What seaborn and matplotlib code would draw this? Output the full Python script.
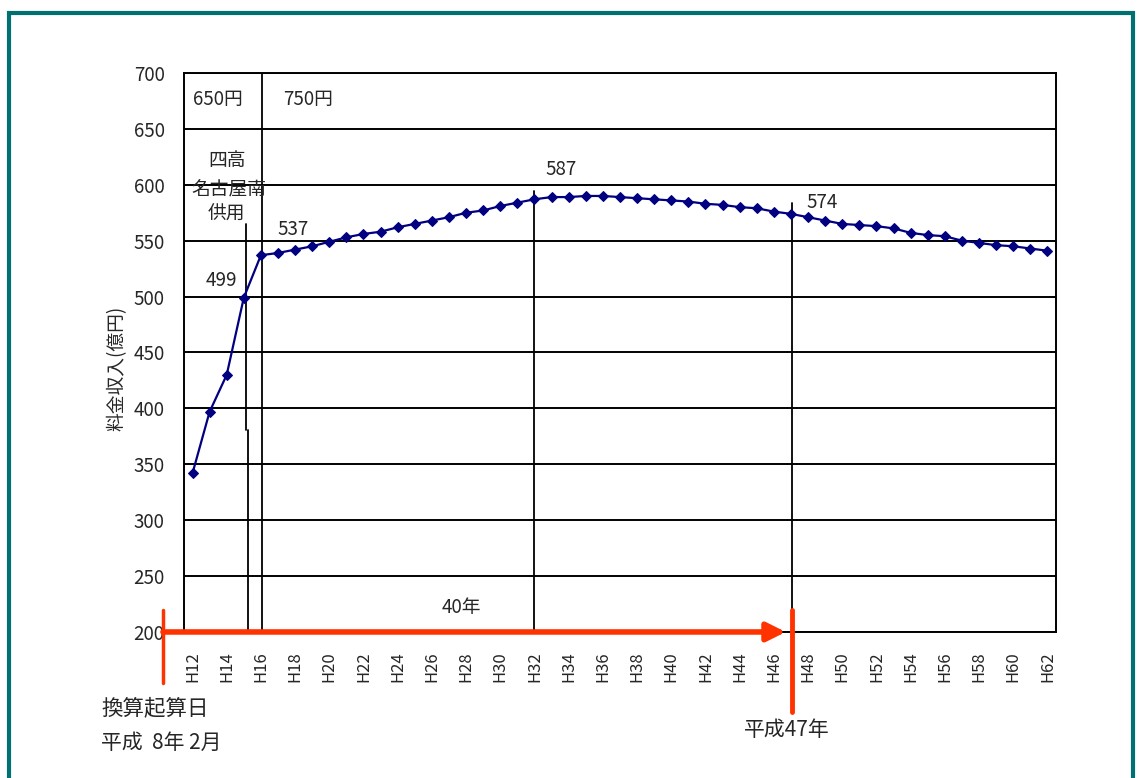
import matplotlib
matplotlib.use("Agg")
import matplotlib.pyplot as plt
import matplotlib.patches as mpatches
import pandas as pd
import seaborn as sns

# 料金収入 (億円), H12 .. H62
years = list(range(12, 63))
revenue = [342, 397, 430, 499, 537, 539, 542, 545, 549, 553,
           556, 558, 562, 565, 568, 571, 575, 577, 581, 584,
           587, 589, 589, 590, 590, 589, 588, 587, 586, 585,
           583, 582, 580, 579, 576, 574, 571, 568, 565, 564,
           563, 561, 557, 555, 554, 550, 548, 546, 545, 543, 541]
year_labels = [f"H{y}" for y in years]
y_ticks = [200, 250, 300, 350, 400, 450, 500, 550, 600, 650, 700]

# labelled points (category index, value)
callouts = [(3, 499), (4, 537), (20, 587), (35, 574)]

sns.set_theme(style="white")
plt.rcParams["font.family"] = ["Noto Sans CJK JP", "DejaVu Sans"]

df = pd.DataFrame({"idx": range(len(years)), "rev": revenue})

fig = plt.figure(figsize=(11.37, 7.78), dpi=100)
ax = fig.add_axes([0.1618, 0.1877, 0.7669, 0.7185])

sns.lineplot(data=df, x="idx", y="rev", ax=ax, color="#000080", lw=1.6,
             marker="D", markersize=5, markeredgecolor="#000080", zorder=5)

ax.set_xlim(-0.5, len(years) - 0.5)
ax.set_ylim(200, 700)
ax.set_yticks(y_ticks)
ax.set_yticklabels([str(v) for v in y_ticks], fontsize=13.5)
ax.set_xticks(range(0, len(years), 2))
ax.set_xticklabels(year_labels[::2], rotation=90, fontsize=12)
ax.set_xticks([i - 0.5 for i in range(len(years) + 1)], minor=True)
ax.tick_params(axis="x", which="major", length=0, pad=14)
ax.tick_params(axis="x", which="minor", direction="in", length=8, width=1.2, color="black")
ax.tick_params(axis="y", length=0, pad=14)
ax.set_xlabel("")
ax.set_ylabel("")
ax.yaxis.grid(True, color="black", lw=1.4)
ax.xaxis.grid(False)
for s in ax.spines.values():
    s.set_color("black")
    s.set_linewidth(1.4)

# vertical markers
ax.plot([3.1, 3.1], [565, 381], color="black", lw=1.3)
ax.plot([3.22, 3.22], [381, 200], color="black", lw=1.3)
ax.axvline(4.05, color="black", lw=1.3)
ax.plot([20, 20], [594, 200], color="black", lw=1.3)
ax.plot([35.05, 35.05], [584, 200], color="black", lw=1.3)

# toll periods
ax.text(0.05, 676, "650円", fontsize=13.5, va="center", ha="left")
ax.text(5.3, 676, "750円", fontsize=13.5, va="center", ha="left")
ax.text(2.0, 622, "四高", fontsize=13.5, va="center", ha="center")
ax.text(2.1, 595, "名古屋南", fontsize=13.5, va="center", ha="center")
ax.text(2.0, 574, "供用", fontsize=13.5, va="center", ha="center")

label_pos = {3: (1.66, 514), 4: (5.87, 560), 20: (21.55, 614), 35: (36.8, 584)}
for i, v in callouts:
    px, py = label_pos[i]
    ax.text(px, py, str(v), fontsize=13.5, ha="center", va="center")

ax.text(15.7, 222, "40年", fontsize=13.5, ha="center", va="center")

# red period arrow
red = "#ff3300"
ax.annotate("", xy=(34.7, 200), xytext=(-1.73, 200),
            arrowprops=dict(arrowstyle="-|>", color=red, lw=4, mutation_scale=28,
                            shrinkA=0, shrinkB=0),
            annotation_clip=False, zorder=10)
ax.plot([-1.73, -1.73], [220, 154], color=red, lw=2.5, clip_on=False, zorder=10)
ax.plot([35.05, 35.05], [220, 128], color=red, lw=3.5, clip_on=False, zorder=10)

fig.text(0.103, 0.527, "料金収入(億円)", rotation=90, fontsize=13.5, ha="center", va="center")
fig.text(0.0888, 0.090, "換算起算日", fontsize=15.5, ha="left", va="center")
fig.text(0.0888, 0.045, "平成  8年 2月", fontsize=15, ha="left", va="center")
fig.text(0.692, 0.062, "平成47年", fontsize=15, ha="center", va="center")

# outer frame
frame = mpatches.Rectangle((9 / 1137, -0.05), 1 - 13 / 1137, 1.05 - 13 / 778,
                           transform=fig.transFigure, fill=False,
                           edgecolor="#007070", lw=3, clip_on=False)
fig.patches.append(frame)

fig.savefig("out.png", dpi=100)
